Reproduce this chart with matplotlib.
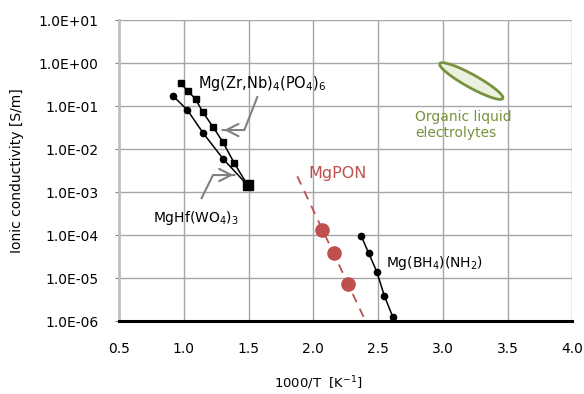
import numpy as np
import matplotlib
matplotlib.use("Agg")
import matplotlib.pyplot as plt
from matplotlib.patches import Polygon

plt.rcParams['font.family'] = ['DejaVu Sans']

# ---- data ----
zrnb_x = [0.974, 1.032, 1.091, 1.147, 1.224, 1.300, 1.390, 1.494]
zrnb_y = [0.344, 0.228, 0.146, 0.0728, 0.0336, 0.0150, 0.00472, 0.00144]

hfwo_x = [0.917, 1.027, 1.147, 1.306, 1.494]
hfwo_y = [0.174, 0.0822, 0.0243, 0.00585, 0.00144]

pon_x = [2.068, 2.163, 2.265]
pon_y = [1.32e-4, 3.78e-5, 7.28e-6]
pon_fit_range = [1.876, 2.388]

bhnh_x = [2.370, 2.426, 2.490, 2.549, 2.613]
bhnh_y = [9.55e-5, 3.90e-5, 1.41e-5, 3.83e-6, 1.26e-6]

# organic liquid region (center x, center log10 y)
org_center = (3.22, -0.41)

x_ticks = [0.5, 1.0, 1.5, 2.0, 2.5, 3.0, 3.5, 4.0]
y_exps = [1, 0, -1, -2, -3, -4, -5, -6]

fig = plt.figure(figsize=(5.84, 3.94), dpi=100)
ax = fig.add_axes([0.204, 0.185, 0.776, 0.763])
ax.set_yscale('log')
ax.set_xlim(0.5, 4.0)
ax.set_ylim(1e-6, 1e1)

ax.set_xticks(x_ticks)
ax.set_xticklabels([f"{t:.1f}" for t in x_ticks])
ax.set_yticks([10.0**e for e in y_exps])
ax.set_yticklabels([f"1.0E{'+' if e >= 0 else '-'}{abs(e):02d}" for e in y_exps])
ax.minorticks_off()
ax.grid(True, color='#a6a6a6', lw=1.0)
ax.set_axisbelow(True)
for s in ['top', 'right']:
    ax.spines[s].set_visible(False)
ax.spines['left'].set_color('#bfbfbf')
ax.spines['left'].set_linewidth(2.0)
ax.spines['bottom'].set_color('black')
ax.spines['bottom'].set_linewidth(2.2)
ax.tick_params(axis='y', length=3, color='#808080', pad=12, labelsize=10)
ax.tick_params(axis='x', length=0, pad=15, labelsize=10)

ax.set_ylabel('Ionic conductivity [S/m]', fontsize=10)
ax.yaxis.set_label_coords(-0.21, 0.5)
ax.set_xlabel('1000/T  [K$^{\\mathregular{-1}}$]', fontsize=9.5)
ax.xaxis.set_label_coords(0.44, -0.205)
ax.xaxis.label.set_va('center')

# series
ax.plot(zrnb_x, zrnb_y, color='black', lw=1.1, marker='s', ms=5, zorder=3)
ax.plot(hfwo_x, hfwo_y, color='black', lw=1.1, marker='o', ms=4.5, zorder=3)
ax.plot(zrnb_x[-1:], zrnb_y[-1:], color='black', marker='s', ms=7, ls='none', zorder=4)

red = '#c0504d'
coef = np.polyfit(pon_x, np.log10(pon_y), 1)
fx = np.array(pon_fit_range)
ax.plot(fx, 10 ** np.polyval(coef, fx), color=red, lw=1.3, ls=(0, (5, 4)), zorder=2)
ax.plot(pon_x, pon_y, 'o', color=red, ms=9.5, zorder=3)

ax.plot(bhnh_x, bhnh_y, color='black', lw=1.1, marker='o', ms=4.5, zorder=3)

# organic ellipse drawn in pixel-like space (x px/unit, px/decade)
sx = 0.776 * 584 / 3.5
sy = 0.763 * 394 / 7.0
t = np.linspace(0, 2 * np.pi, 200)
a, b, ang = 36.0, 6.5, np.deg2rad(-29)
px = a * np.cos(t) * np.cos(ang) - b * np.sin(t) * np.sin(ang)
py = a * np.cos(t) * np.sin(ang) + b * np.sin(t) * np.cos(ang)
ex = org_center[0] + px / sx
ey = 10 ** (org_center[1] + py / sy)
ax.add_patch(Polygon(np.column_stack([ex, ey]), closed=True, facecolor='#ebf1de',
                     edgecolor='#77933c', lw=2.0, zorder=3))

# labels
ax.text(1.106, 0.332, 'Mg(Zr,Nb)$_\\mathregular{4}$(PO$_\\mathregular{4}$)$_\\mathregular{6}$',
        fontsize=10.5, va='center', ha='left')
ax.text(0.761, 2.51e-4, 'MgHf(WO$_\\mathregular{4}$)$_\\mathregular{3}$', fontsize=10, va='center', ha='left')
ax.text(1.958, 2.8e-3, 'MgPON', fontsize=11.5, color=red, va='center', ha='left')
ax.text(2.564, 2.24e-5, 'Mg(BH$_\\mathregular{4}$)(NH$_\\mathregular{2}$)', fontsize=10, va='center', ha='left')
ax.text(2.785, 0.0368, 'Organic liquid\nelectrolytes', fontsize=10, color='#77933c',
        va='center', ha='left', linespacing=1.1)

# arrows
gray = '#808080'
ax.plot([1.567, 1.467, 1.30], [0.165, 0.0281, 0.0281], color=gray, lw=1.5, zorder=2)
ax.annotate('', xy=(1.288, 0.0281), xytext=(1.40, 0.0281),
            arrowprops=dict(arrowstyle='->', color=gray, lw=1.5, mutation_scale=22))
ax.plot([1.137, 1.225, 1.39], [7.3e-4, 2.52e-3, 2.52e-3], color=gray, lw=1.5, zorder=2)
ax.annotate('', xy=(1.406, 2.52e-3), xytext=(1.30, 2.52e-3),
            arrowprops=dict(arrowstyle='->', color=gray, lw=1.5, mutation_scale=22))

fig.savefig('out.png', dpi=100)
